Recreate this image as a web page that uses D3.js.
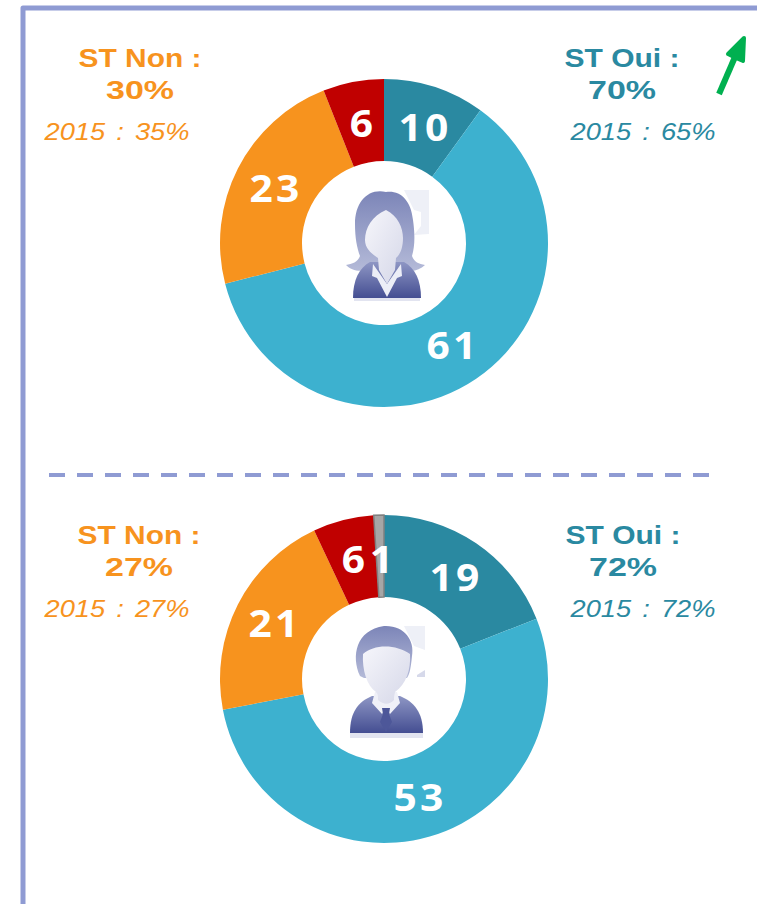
<!DOCTYPE html>
<html>
<head>
<meta charset="utf-8">
<script src="https://cdn.jsdelivr.net/npm/d3@7"></script>
<style>
  html, body { margin: 0; padding: 0; background: #fff; overflow: hidden; }
  svg { display: block; }
  .big { font-family: "Liberation Sans", Arial, sans-serif; font-weight: bold; font-size: 26px; }
  .old { font-family: "Liberation Sans", Arial, sans-serif; font-style: italic; font-size: 23px; word-spacing: 3px; }
  .val { font-family: "Open Sans", sans-serif; font-weight: bold; font-size: 37px; letter-spacing: 3px; fill: #fff; }
</style>
</head>
<body>
<div id="chart"></div>
<script>
// share of each answer, women on top, men below
const womenCats = ["tres", "plutot", "plutot pas", "pas du tout"];
const womenVals = [10, 61, 23, 6];
const menCats = ["tres", "plutot", "plutot pas", "pas du tout", "nsp"];
const menVals = [19, 53, 21, 6, 1];

const catColors = ["#2a89a1", "#3db1cf", "#f7931e", "#c00000", "#a6a6a6"];
const catNames = ["tres", "plutot", "plutot pas", "pas du tout", "nsp"];

const womenHead = ["ST Non :", "30%", "2015 : 35%", "ST Oui :", "70%", "2015 : 65%"];
const menHead = ["ST Non :", "27%", "2015 : 27%", "ST Oui :", "72%", "2015 : 72%"];

const width = 757, height = 904;
const outer = 164, inner = 82;
const orange = "#f7931e", teal = "#2a89a1", frame = "#8f9bd3";

const svg = d3.select("#chart").append("svg")
    .attr("width", width)
    .attr("height", height);

const color = d3.scaleOrdinal().domain(catNames).range(catColors);

// gradients for the portraits
const defs = svg.append("defs");
const hair = defs.append("linearGradient").attr("id", "hair")
    .attr("x1", 0).attr("y1", 0).attr("x2", 0).attr("y2", 1);
hair.append("stop").attr("offset", 0).attr("stop-color", "#7c85b8");
hair.append("stop").attr("offset", 1).attr("stop-color", "#b4bad8");
const suit = defs.append("linearGradient").attr("id", "suit")
    .attr("x1", 0).attr("y1", 0).attr("x2", 0).attr("y2", 1);
suit.append("stop").attr("offset", 0).attr("stop-color", "#8e96c4");
suit.append("stop").attr("offset", 1).attr("stop-color", "#444e92");
const face = defs.append("linearGradient").attr("id", "face")
    .attr("x1", 0).attr("y1", 0).attr("x2", 1).attr("y2", 1);
face.append("stop").attr("offset", 0).attr("stop-color", "#f6f6fb");
face.append("stop").attr("offset", 1).attr("stop-color", "#d5d7e8");

// frame, open on the right and at the bottom
svg.append("path")
    .attr("d", `M${width},8 H23 V${height}`)
    .attr("fill", "none")
    .attr("stroke", frame)
    .attr("stroke-width", 5)
    .attr("stroke-linejoin", "round");

svg.append("line")
    .attr("x1", 49).attr("x2", 710)
    .attr("y1", 475).attr("y2", 475)
    .attr("stroke", frame)
    .attr("stroke-width", 4)
    .attr("stroke-dasharray", "16 12");

// green trend arrow
svg.append("line")
    .attr("x1", 719).attr("y1", 94)
    .attr("x2", 738).attr("y2", 50)
    .attr("stroke", "#00b050")
    .attr("stroke-width", 6);
svg.append("path")
    .attr("d", "M744,38 L728,54 L736,58 L743,61 Z")
    .attr("fill", "#00b050")
    .attr("stroke", "#00b050")
    .attr("stroke-width", 4)
    .attr("stroke-linejoin", "round");

const arc = d3.arc().innerRadius(inner).outerRadius(outer);
const pie = d3.pie().sort(null).value(d => d.v);

function donut(cats, vals, cx, cy, labelPos) {
    const rows = cats.map((c, i) => ({ c: c, v: vals[i] }));
    const g = svg.append("g").attr("transform", `translate(${cx},${cy})`);
    g.selectAll("path")
        .data(pie(rows))
        .join("path")
        .attr("d", arc)
        .attr("fill", d => color(d.data.c))
        .attr("stroke", d => d.data.c == "nsp" ? "#808080" : "none")
        .attr("stroke-width", 1.5);
    g.selectAll("text")
        .data(rows)
        .join("text")
        .attr("class", "val")
        .attr("text-anchor", "middle")
        .attr("transform", (d, i) => `translate(${labelPos[i][0]},${labelPos[i][1]}) scale(1.1,1)`)
        .text(d => d.v);
}

// label offsets from the donut centre, placed by hand like the original
donut(womenCats, womenVals, 384, 243, [[41, -102], [69, 116], [-108, -41], [-21, -106]]);
donut(menCats, menVals, 384, 679, [[72, -88], [36, 132], [-109, -42], [-29, -106], [-1, -106]]);

function heads(t, y, nudge) {
    const add = (cls, x, yy, txt, col, w) => svg.append("text")
        .attr("class", cls)
        .attr("x", x).attr("y", yy)
        .attr("text-anchor", "middle")
        .attr("fill", col)
        .attr("textLength", w)
        .attr("lengthAdjust", "spacingAndGlyphs")
        .text(txt);
    add("big", 140 - nudge, y + 67, t[0], orange, 123);
    add("big", 140 - nudge, y + 99, t[1], orange, 68);
    add("old", 117, y + 140, t[2], orange, 145);
    add("big", 622 + nudge, y + 67, t[3], teal, 115);
    add("big", 622 + nudge, y + 99, t[4], teal, 68);
    add("old", 643, y + 140, t[5], teal, 145);
}
heads(womenHead, 0, 0);
heads(menHead, 477, 1);

// portraits
function woman(cx, cy) {
    const g = svg.append("g").attr("transform", `translate(${cx},${cy})`);
    g.append("path").attr("d", "M20,-50 H45 V-6 L30,-5 L37,-14 L37,-28 L30,-30 Z").attr("fill", "#eef0f7");
    g.append("path").attr("fill", "url(#hair)")
        .attr("d", "M2,-48 C-16,-52 -29,-38 -29,-16 C-29,-2 -27,8 -24,16 C-26,22 -32,24 -38,25 C-30,34 -12,32 -6,22 H10 C18,32 32,34 41,25 C35,24 30,22 28,16 C31,6 31,-6 29,-20 C27,-40 16,-50 2,-48 Z");
    g.append("path").attr("fill", "url(#suit)")
        .attr("d", "M-14,22 C-25,28 -31,40 -31,58 H37 C37,40 31,28 20,22 Z");
    g.append("path").attr("fill", "#eceef7")
        .attr("d", "M-11,24 L-12,36 L-7,38 L3,57 L13,38 L18,36 L17,24 L3,44 Z");
    g.append("path").attr("fill", "url(#face)")
        .attr("d", "M2,-30 C-12,-24 -19,-12 -19,0 C-19,10 -10,15 -6,18 L-5,30 L3,44 L11,30 L12,18 C16,15 19,8 19,-2 C19,-12 14,-24 2,-30 Z");
    g.append("rect").attr("x", -30).attr("y", 58).attr("width", 66).attr("height", 3).attr("fill", "#e2e4f0");
}

function man(cx, cy) {
    const g = svg.append("g").attr("transform", `translate(${cx},${cy})`);
    g.append("path").attr("d", "M20,-54 H41 V-30 L30,-34 Z").attr("fill", "#eef0f7");
    g.append("path").attr("d", "M33,-5 L41,-10 V-3 H33 Z").attr("fill", "#d6d9ea");
    g.append("path").attr("fill", "url(#suit)")
        .attr("d", "M-12,16 C-26,22 -34,32 -34,53 H39 C39,32 30,22 16,16 Z");
    g.append("path").attr("fill", "url(#hair)")
        .attr("d", "M-24,-4 C-33,-24 -28,-50 0,-54 C20,-55 31,-40 28,-24 C27,-14 26,-6 23,-2 H-20 Z");
    g.append("path").attr("fill", "#f0f1f8")
        .attr("d", "M-9,12 L-12,23 L-2,34 L2,28 L6,34 L16,23 L13,12 Z");
    g.append("path").attr("fill", "#4d5799")
        .attr("d", "M-2,28 L6,28 L5,34 L8,42 L2,52 L-4,42 L-1,34 Z");
    g.append("path").attr("fill", "url(#face)")
        .attr("d", "M-21,-26 C-10,-36 12,-36 26,-26 C27,-10 22,4 11,12 C10,16 10,18 10,20 C5,25 0,25 -6,20 C-6,16 -6,14 -8,12 C-17,6 -22,-10 -21,-26 Z");
    g.append("rect").attr("x", -34).attr("y", 53).attr("width", 73).attr("height", 5).attr("fill", "#e2e4f0");
}

woman(384, 240);
man(384, 680);
</script>
</body>
</html>
